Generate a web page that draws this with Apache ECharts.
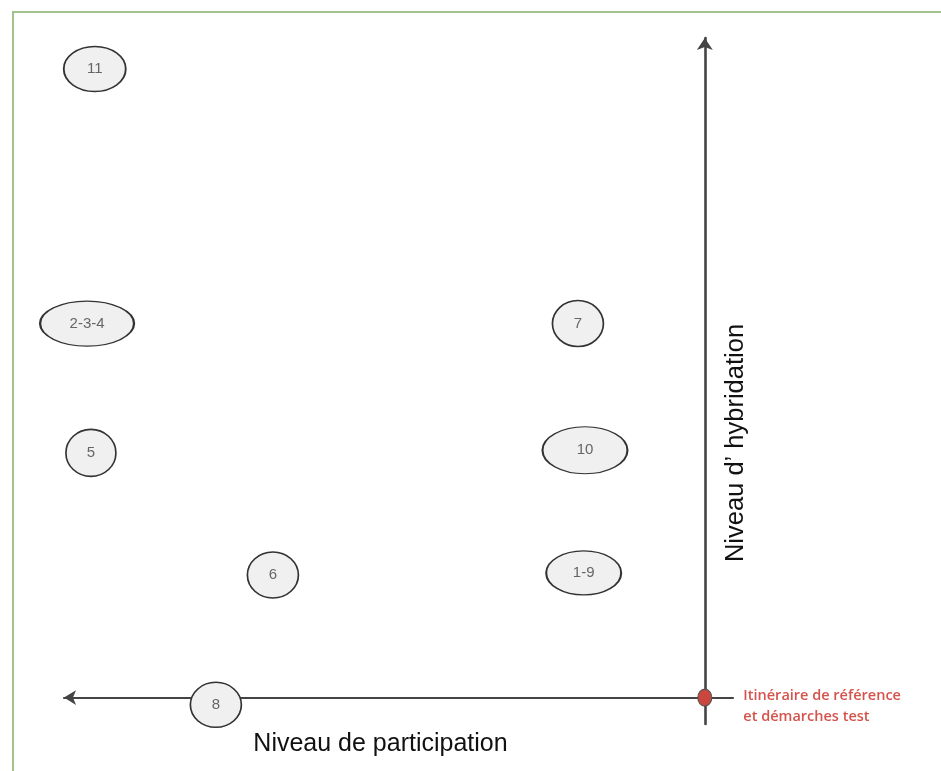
<!DOCTYPE html>
<html>
<head>
<meta charset="utf-8">
<script src="https://cdn.jsdelivr.net/npm/echarts@6/dist/echarts.min.js"></script>
<style>
  html, body { margin: 0; padding: 0; background: #fff; overflow: hidden; }
  #chart { width: 941px; height: 771px; }
  #frame {
    position: absolute; left: 12px; top: 11px; width: 929px; height: 760px;
    box-sizing: border-box; border-left: 2px solid #a3c18c; border-top: 2px solid #a3c18c;
    pointer-events: none;
  }
</style>
</head>
<body>
<div id="chart"></div>
<div id="frame"></div>
<script>
// bubbles: label, participation level (x, grows to the left), hybridation level (y)
const labels = ["11", "2-3-4", "5", "7", "10", "6", "1-9", "8"];
const participation = [9.52, 9.64, 9.58, 1.98, 1.87, 6.74, 1.89, 7.63];
const hybridation = [9.53, 5.67, 3.71, 5.67, 3.75, 1.86, 1.89, -0.11];

// reference point at the origin
const referenceLabel = "Itinéraire de référence\net démarches test";
const referencePoint = [0, 0];

const xAxisName = "Niveau de participation";
const yAxisName = "Niveau d\u2019 hybridation";

// ellipse sizes per bubble (style only)
const bubbleSizes = {
  "11": [62, 45],
  "2-3-4": [94, 45],
  "5": [50, 47],
  "7": [51, 46],
  "10": [85, 47],
  "6": [51, 46],
  "1-9": [75, 44],
  "8": [51, 45],
};

const chart = echarts.init(document.getElementById("chart"));

chart.setOption({
  animation: false,
  grid: { left: 64, right: 208, top: 38, bottom: 47, outerBoundsMode: "none", containLabel: false },
  xAxis: {
    type: "value",
    inverse: true,
    min: -0.44,
    max: 10,
    name: xAxisName,
    nameLocation: "middle",
    nameGap: 8,
    nameMoveOverlap: false,
    nameTextStyle: { fontSize: 25, color: "#111", fontFamily: "Liberation Sans", padding: [0, 36, 0, 0] },
    axisLine: {
      onZero: true,
      symbol: ["arrow", "none"],
      symbolSize: [11, 12],
      lineStyle: { color: "#444", width: 2.2 },
    },
    axisTick: { show: false },
    axisLabel: { show: false },
    splitLine: { show: false },
  },
  yAxis: {
    type: "value",
    position: "right",
    min: -0.4,
    max: 10,
    name: yAxisName,
    nameLocation: "middle",
    nameGap: -10,
    nameMoveOverlap: false,
    nameTextStyle: { fontSize: 25.5, color: "#111", fontFamily: "Liberation Sans", padding: [0, 124, 0, 0] },
    axisLine: {
      onZero: true,
      symbol: ["none", "arrow"],
      symbolSize: [12, 12],
      lineStyle: { color: "#444", width: 2.6 },
    },
    axisTick: { show: false },
    axisLabel: { show: false },
    splitLine: { show: false },
  },
  series: [
    {
      type: "scatter",
      clip: false,
      z: 3,
      data: labels.map((name, i) => ({
        name,
        value: [participation[i], hybridation[i]],
        symbolSize: bubbleSizes[name],
      })),
      itemStyle: { color: "#f0f0f0", borderColor: "#333", borderWidth: 1.6, opacity: 1 },
      label: {
        show: true,
        formatter: (p) => p.name,
        color: "#666",
        fontSize: 15,
        fontFamily: "Liberation Sans",
      },
      emphasis: { disabled: true },
    },
    {
      type: "scatter",
      clip: false,
      z: 4,
      data: [{ name: referenceLabel, value: referencePoint }],
      symbolSize: [14, 17],
      itemStyle: { color: "#c9473f", borderColor: "#555", borderWidth: 1.2, opacity: 1 },
      label: {
        show: true,
        position: "right",
        distance: 31,
        offset: [0, 9],
        formatter: (p) => p.name,
        color: "#d4534c",
        fontSize: 14.5,
        fontWeight: 600,
        lineHeight: 21,
        fontFamily: "Open Sans",
      },
      emphasis: { disabled: true },
    },
  ],
});
</script>
</body>
</html>
